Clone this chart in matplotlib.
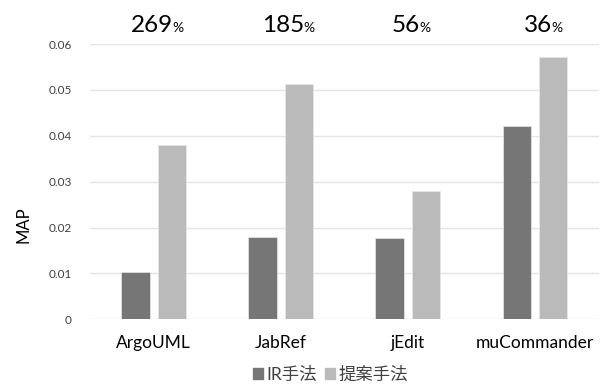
import matplotlib.pyplot as plt
from matplotlib.patches import Patch
from matplotlib.transforms import blended_transform_factory
import numpy as np

plt.rcParams['font.family'] = ['Lato', 'Noto Sans CJK JP', 'DejaVu Sans']

projects = ['ArgoUML', 'JabRef', 'jEdit', 'muCommander']
ir_map = [0.0104, 0.0180, 0.0178, 0.0422]
proposed_map = [0.0380, 0.0514, 0.0279, 0.0573]
improvement = ['269', '185', '56', '36']
series_names = ['IR手法', '提案手法']

ir_color = '#767676'
proposed_color = '#BABABA'

fig = plt.figure(figsize=(6.05, 3.87), dpi=100)
ax = fig.add_axes([0.1488, 0.175, 0.8405, 0.711])

x = np.arange(len(projects))
w = 0.224
ax.bar(x - 0.143, ir_map, w, color=ir_color, edgecolor='#e8e8e8', linewidth=0.5, zorder=3)
ax.bar(x + 0.143, proposed_map, w, color=proposed_color, edgecolor='#e8e8e8', linewidth=0.5, zorder=3)

ax.set_xlim(-0.5, len(projects) - 0.5)
ax.set_ylim(0, 0.06)
ax.set_yticks([0, 0.01, 0.02, 0.03, 0.04, 0.05, 0.06])
ax.set_yticklabels(['0', '0.01', '0.02', '0.03', '0.04', '0.05', '0.06'])
ax.yaxis.grid(True, color='#e4e4e4', linewidth=1.0, zorder=0)
ax.set_axisbelow(True)
for s in ax.spines.values():
    s.set_visible(False)
ax.tick_params(axis='y', length=0, pad=13, labelsize=8.5, labelcolor='#404040')
ax.tick_params(axis='x', length=0, pad=11, labelsize=12.5)
ax.set_xticks(x)
ax.set_xticklabels(projects)
ax.set_ylabel('MAP', fontsize=12)
ax.yaxis.set_label_coords(-0.115, 0.343)

# improvement labels above groups (number right edge, in data x)
label_x = [0.152, 1.185, 2.097, 3.131]
tr = blended_transform_factory(ax.transData, fig.transFigure)
for lx, txt in zip(label_x, improvement):
    ax.text(lx, 0.918, txt, transform=tr, ha='right', va='baseline', fontsize=17.5)
    ax.text(lx - 0.005, 0.918, '%', transform=tr, ha='left', va='baseline', fontsize=10)

handles = [Patch(color=ir_color), Patch(color=proposed_color)]
leg = fig.legend(handles, series_names, loc='center', bbox_to_anchor=(0.546, 0.032),
                 ncol=2, frameon=False, fontsize=12.5, handlelength=0.55, handleheight=0.55,
                 handletextpad=0.2, columnspacing=0.5)
for t in leg.get_texts():
    t.set_color('#404040')

plt.savefig('out.png', dpi=100)
